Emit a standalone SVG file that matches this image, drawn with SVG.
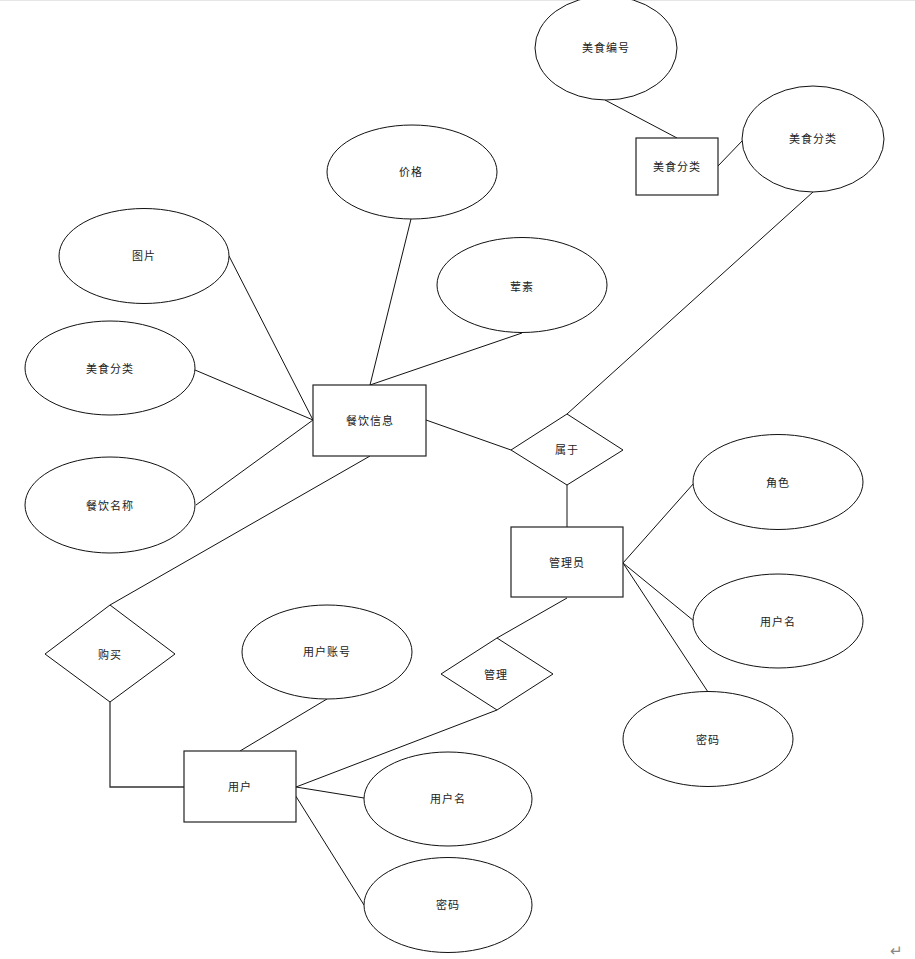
<svg xmlns="http://www.w3.org/2000/svg" width="915" height="959" viewBox="0 0 915 959">
<style>
.e{fill:#fff;stroke:#111;stroke-width:1}
.r{fill:#fff;stroke:#222;stroke-width:1.2}
.d{fill:#fff;stroke:#111;stroke-width:1}
.c line,.c polyline{stroke:#111;stroke-width:1;fill:none}
text{font-family:"Noto Sans CJK SC","Microsoft YaHei",sans-serif;font-size:11px;fill:#222;text-anchor:middle;dominant-baseline:central;letter-spacing:1px}
</style>
<rect width="915" height="959" fill="#fff"/>
<line x1="0" y1="0.5" x2="915" y2="0.5" stroke="#e6e6e6"/>
<g class="c" id="connectors">
<line x1="605" y1="100" x2="677" y2="138"/>
<line x1="718" y1="166" x2="743" y2="140"/>
<line x1="813" y1="192" x2="567" y2="414"/>
<line x1="411" y1="219" x2="370" y2="385"/>
<line x1="522" y1="333" x2="370" y2="385"/>
<line x1="229" y1="256" x2="313" y2="420"/>
<line x1="195" y1="370" x2="313" y2="420"/>
<line x1="196" y1="505" x2="313" y2="420"/>
<line x1="426" y1="420" x2="511" y2="450"/>
<line x1="567" y1="485" x2="567" y2="527"/>
<line x1="370" y1="456" x2="110" y2="605"/>
<polyline points="110,702 110,787 184,787" style="stroke:#333;stroke-width:1.3"/>
<line x1="327" y1="699" x2="240" y2="751"/>
<line x1="497" y1="638" x2="567" y2="598"/>
<line x1="497" y1="710" x2="296" y2="787"/>
<line x1="296" y1="787" x2="364" y2="798"/>
<line x1="292" y1="790" x2="364" y2="905"/>
<line x1="623" y1="563" x2="694" y2="483"/>
<line x1="623" y1="563" x2="694" y2="621"/>
<line x1="623" y1="563" x2="708" y2="692"/>
</g>
<g id="n_meishibianhao"><ellipse class="e" cx="606" cy="48" rx="71" ry="52"/><text x="606" y="47">美食编号</text></g>
<g id="n_meishifenlei_entity"><rect class="r" x="636" y="138" width="82" height="57"/><text x="677" y="166">美食分类</text></g>
<g id="n_meishifenlei_attr"><ellipse class="e" cx="813" cy="139" rx="71" ry="53"/><text x="813" y="138">美食分类</text></g>
<g id="n_jiage"><ellipse class="e" cx="412" cy="172" rx="85" ry="47"/><text x="411" y="171">价格</text></g>
<g id="n_hunsu"><ellipse class="e" cx="522" cy="285" rx="85" ry="47.5"/><text x="522" y="286">荤素</text></g>
<g id="n_tupian"><ellipse class="e" cx="144" cy="256" rx="85" ry="47.5"/><text x="144" y="255">图片</text></g>
<g id="n_meishifenlei_left"><ellipse class="e" cx="110" cy="368" rx="85" ry="47"/><text x="110" y="368">美食分类</text></g>
<g id="n_canyinmingcheng"><ellipse class="e" cx="110" cy="505" rx="85" ry="48"/><text x="110" y="505">餐饮名称</text></g>
<g id="n_canyinxinxi"><rect class="r" x="313" y="385" width="113" height="71"/><text x="370" y="420">餐饮信息</text></g>
<g id="n_shuyu"><polygon class="d" points="511,450 567,414 623,450 567,485"/><text x="567" y="449">属于</text></g>
<g id="n_jiaose"><ellipse class="e" cx="778" cy="482" rx="85" ry="47.5"/><text x="778" y="482">角色</text></g>
<g id="n_guanliyuan"><rect class="r" x="511" y="527" width="112" height="70"/><text x="567" y="562">管理员</text></g>
<g id="n_yonghuming_r"><ellipse class="e" cx="778" cy="621" rx="85" ry="47"/><text x="778" y="621">用户名</text></g>
<g id="n_mima_r"><ellipse class="e" cx="708" cy="739" rx="85" ry="47.5"/><text x="708" y="739">密码</text></g>
<g id="n_goumai"><polygon class="d" points="45,654 110,605 175,654 110,702"/><text x="110" y="654">购买</text></g>
<g id="n_yonghuzhanghao"><ellipse class="e" cx="327" cy="652" rx="85" ry="47"/><text x="327" y="651">用户账号</text></g>
<g id="n_guanli"><polygon class="d" points="441,674 497,638 553,674 497,710"/><text x="496" y="674">管理</text></g>
<g id="n_yonghu"><rect class="r" x="184" y="751" width="112" height="71"/><text x="240" y="786">用户</text></g>
<g id="n_yonghuming"><ellipse class="e" cx="448" cy="799" rx="84" ry="47"/><text x="448" y="798">用户名</text></g>
<g id="n_mima"><ellipse class="e" cx="448" cy="905" rx="84" ry="47.5"/><text x="448" y="904">密码</text></g>
<text x="896" y="949" style="fill:#888;font-size:15px;letter-spacing:0">↵</text>
</svg>
